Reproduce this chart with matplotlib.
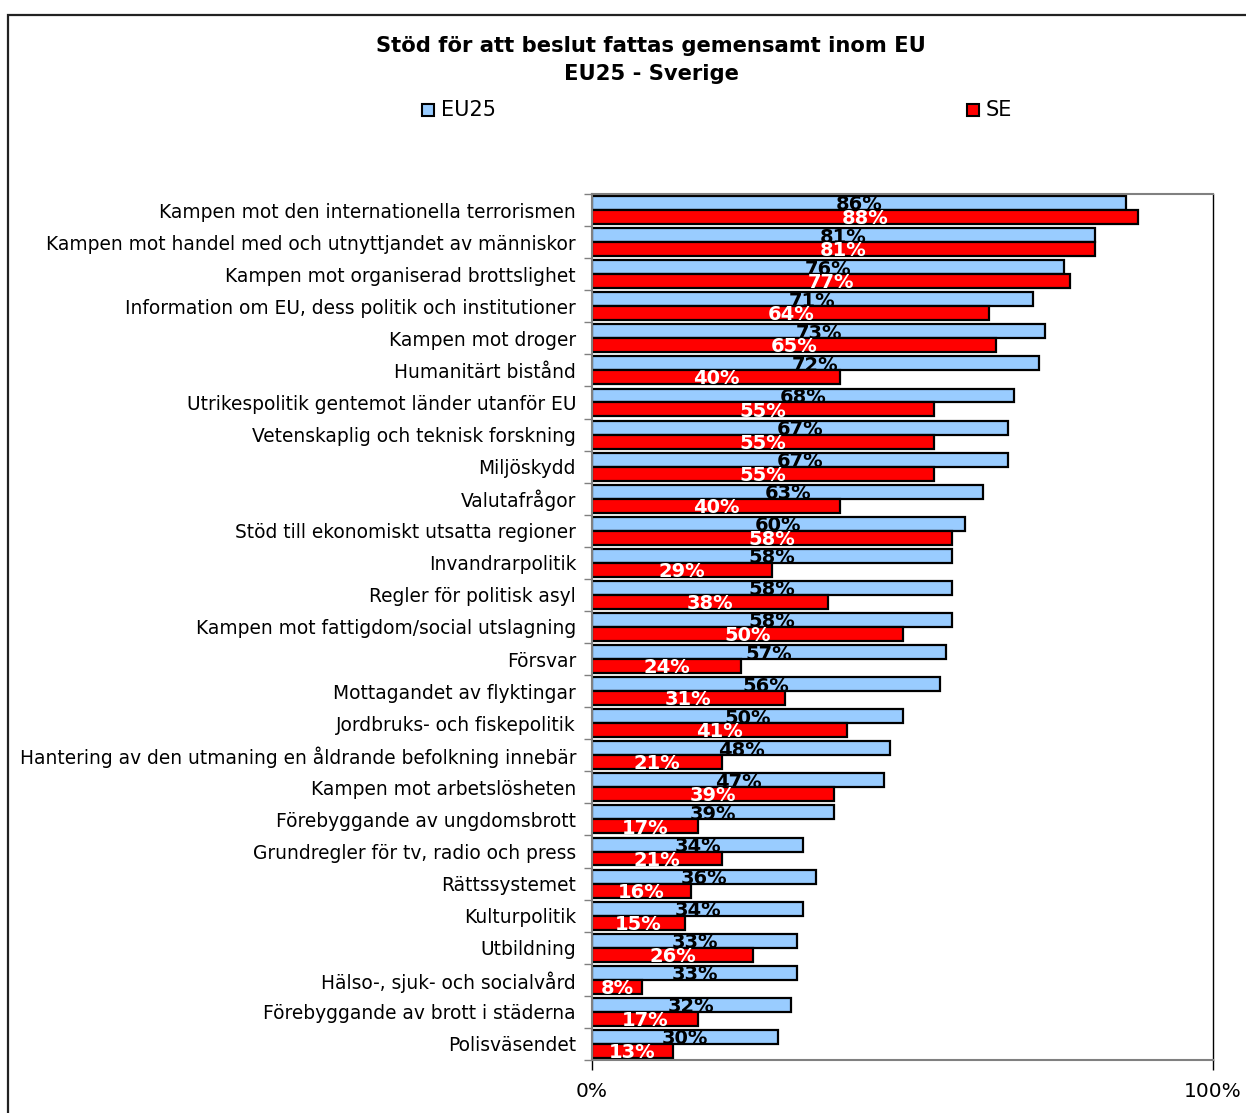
import matplotlib
matplotlib.use("Agg")
import matplotlib.pyplot as plt
from matplotlib.patches import Rectangle
import numpy as np

categories = [
    "Kampen mot den internationella terrorismen",
    "Kampen mot handel med och utnyttjandet av människor",
    "Kampen mot organiserad brottslighet",
    "Information om EU, dess politik och institutioner",
    "Kampen mot droger",
    "Humanitärt bistånd",
    "Utrikespolitik gentemot länder utanför EU",
    "Vetenskaplig och teknisk forskning",
    "Miljöskydd",
    "Valutafrågor",
    "Stöd till ekonomiskt utsatta regioner",
    "Invandrarpolitik",
    "Regler för politisk asyl",
    "Kampen mot fattigdom/social utslagning",
    "Försvar",
    "Mottagandet av flyktingar",
    "Jordbruks- och fiskepolitik",
    "Hantering av den utmaning en åldrande befolkning innebär",
    "Kampen mot arbetslösheten",
    "Förebyggande av ungdomsbrott",
    "Grundregler för tv, radio och press",
    "Rättssystemet",
    "Kulturpolitik",
    "Utbildning",
    "Hälso-, sjuk- och socialvård",
    "Förebyggande av brott i städerna",
    "Polisväsendet",
]
eu25 = [86, 81, 76, 71, 73, 72, 68, 67, 67, 63, 60, 58, 58, 58, 57, 56, 50, 48, 47, 39, 34, 36, 34, 33, 33, 32, 30]
se = [88, 81, 77, 64, 65, 40, 55, 55, 55, 40, 58, 29, 38, 50, 24, 31, 41, 21, 39, 17, 21, 16, 15, 26, 8, 17, 13]
series_names = ["EU25", "SE"]
xtick_labels = ["0%", "100%"]

W, H = 1246, 1113
fig = plt.figure(figsize=(W / 100, H / 100), dpi=100)
fig.patch.set_facecolor("white")

# outer chart frame
fig.patches.append(Rectangle((8 / W, -0.1), 1.2, 1 - 15 / H + 0.1, transform=fig.transFigure,
                             fill=False, edgecolor="#222222", linewidth=1.6))

ax = fig.add_axes([592 / W, 1 - 1060 / H, (1213 - 592) / W, (1060 - 194) / H])
n = len(categories)
y = np.arange(n)
h = 0.435
c_eu = "#99CCFF"
c_se = "#FF0000"
ax.barh(y - h / 2, np.array(eu25) / 100, height=h, color=c_eu, edgecolor="black", linewidth=1.6, label=series_names[0])
ax.barh(y + h / 2, np.array(se) / 100, height=h, color=c_se, edgecolor="black", linewidth=1.6, label=series_names[1])

for i in range(n):
    ax.text(eu25[i] / 200, i - h / 2 + 0.06, f"{eu25[i]}%", ha="center", va="center",
            fontsize=14, fontweight="bold", color="black")
    ax.text(se[i] / 200, i + h / 2 + 0.05, f"{se[i]}%", ha="center", va="center",
            fontsize=14, fontweight="bold", color="white")

ax.set_xlim(0, 1)
ax.set_ylim(n - 0.5, -0.5)
ax.set_xticks([0, 1])
ax.set_xticklabels(xtick_labels, fontsize=14.5)
ax.tick_params(axis="x", length=7, width=1, color="black", pad=9)
ax.set_yticks(y)
ax.set_yticklabels(categories, fontsize=13.4)
ax.tick_params(axis="y", length=0, pad=11.5)
ax.set_yticks(np.arange(n + 1) - 0.5, minor=True)
ax.tick_params(axis="y", which="minor", length=6, width=1, color="#808080")

for s in ["top", "bottom", "left"]:
    ax.spines[s].set_color("#808080")
    ax.spines[s].set_linewidth(1.5)
ax.spines["right"].set_color("black")
ax.spines["right"].set_linewidth(1)

fig.text(651 / W, 1 - 46 / H, "Stöd för att beslut fattas gemensamt inom EU", ha="center", va="center",
         fontsize=15.2, fontweight="bold")
fig.text(651 / W, 1 - 74 / H, "EU25 - Sverige", ha="center", va="center", fontsize=15.2, fontweight="bold")

# legend entries
for name, col, x0 in [(series_names[0], c_eu, 422), (series_names[1], c_se, 967)]:
    fig.patches.append(Rectangle((x0 / W, 1 - 116 / H), 12 / W, 12 / H, transform=fig.transFigure,
                                 facecolor=col, edgecolor="black", linewidth=1.5))
    fig.text((x0 + 19) / W, 1 - 110 / H, name, ha="left", va="center", fontsize=15)

fig.savefig("out.png", dpi=100)
